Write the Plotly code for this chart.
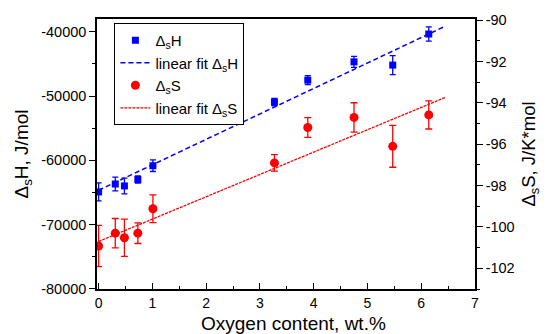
import plotly.graph_objects as go

# Data
oxygen = [0.0, 0.31, 0.48, 0.73, 1.01, 3.27, 3.89, 4.75, 5.47, 6.14]
dH = [-64930, -63700, -64000, -63000, -60850, -50930, -47520, -44670, -45180, -40340]
dH_err = [1400, 1070, 1220, 560, 900, 580, 700, 850, 1480, 1100]
dS = [-100.92, -100.30, -100.52, -100.30, -99.12, -96.90, -95.19, -94.70, -96.10, -94.58]
dS_err = [1.0, 0.71, 0.90, 0.50, 0.67, 0.40, 0.48, 0.71, 1.01, 0.68]

fit_x = [0.0, 6.45]
fit_H = [-64670, -39110]
fit_S = [-100.70, -93.73]

x_ticks = [0, 1, 2, 3, 4, 5, 6, 7]
x_ticklabels = ["0", "1", "2", "3", "4", "5", "6", "7"]
h_ticks = [-80000, -70000, -60000, -50000, -40000]
h_ticklabels = ["-80000", "-70000", "-60000", "-50000", "-40000"]
s_ticks = [-102, -100, -98, -96, -94, -92, -90]
s_ticklabels = ["-102", "-100", "-98", "-96", "-94", "-92", "-90"]

FONT = "Arial, Liberation Sans, sans-serif"
BLUE = "#0000ff"
RED = "#ff0000"

fig = go.Figure()
fig.add_trace(go.Scatter(
    x=oxygen, y=dH, mode="markers", name="Δ<sub>s</sub>H",
    marker=dict(symbol="square", size=7, color=BLUE),
    error_y=dict(type="data", array=dH_err, visible=True, color=BLUE, thickness=1.3, width=3),
))
fig.add_trace(go.Scatter(
    x=fit_x, y=fit_H, mode="lines", name="linear fit Δ<sub>s</sub>H",
    line=dict(color=BLUE, width=1.5, dash="5px,3px"),
))
fig.add_trace(go.Scatter(
    x=oxygen, y=dS, mode="markers", name="Δ<sub>s</sub>S", yaxis="y2",
    marker=dict(symbol="circle", size=9, color=RED),
    error_y=dict(type="data", array=dS_err, visible=True, color=RED, thickness=1.3, width=3.5),
))
fig.add_trace(go.Scatter(
    x=fit_x, y=fit_S, mode="lines", name="linear fit Δ<sub>s</sub>S", yaxis="y2",
    line=dict(color=RED, width=1.3, dash="3px,1px"),
))

fig.update_layout(
    width=548, height=334,
    margin=dict(l=97, r=56, t=14, b=45),
    paper_bgcolor="white", plot_bgcolor="white",
    font=dict(family=FONT, size=14, color="black"),
    showlegend=True,
    legend=dict(
        x=0.046, y=0.985, xanchor="left", yanchor="top",
        bordercolor="black", borderwidth=1, bgcolor="white",
        font=dict(size=15, family=FONT),
        itemwidth=30, tracegroupgap=0,
    ),
    xaxis=dict(
        range=[-0.03, 7], tickmode="array", tickvals=x_ticks, ticktext=x_ticklabels,
        showline=True, linecolor="black", linewidth=1.5, mirror=True,
        ticks="inside", ticklen=6, tickwidth=1.3, tickcolor="black",
        minor=dict(dtick=0.5, ticklen=3, ticks="inside", tickcolor="black", tickwidth=1.2),
        showgrid=False, zeroline=False,
        tickfont=dict(size=14),
    ),
    yaxis=dict(
        range=[-80050, -38000], tickmode="array", tickvals=h_ticks, ticktext=h_ticklabels,
        showline=True, linecolor="black", linewidth=1.5,
        ticks="outside", ticklen=6, tickwidth=1.3, tickcolor="black",
        minor=dict(tickmode="linear", tick0=-80000, dtick=5000, ticklen=3, ticks="outside",
                   tickcolor="black", tickwidth=1.2),
        showgrid=False, zeroline=False,
        title=dict(text="Δ<sub>s</sub>H, J/mol", font=dict(size=19), standoff=8),
        tickfont=dict(size=14.5),
    ),
    yaxis2=dict(
        range=[-103, -89.94], overlaying="y", side="right",
        tickmode="array", tickvals=s_ticks, ticktext=s_ticklabels,
        showline=True, linecolor="black", linewidth=1.5,
        ticks="outside", ticklen=6, tickwidth=1.3, tickcolor="black",
        minor=dict(tickmode="linear", tick0=-103, dtick=1, ticklen=3, ticks="outside",
                   tickcolor="black", tickwidth=1.2),
        showgrid=False, zeroline=False,
        title=dict(text="Δ<sub>s</sub>S, J/K*mol", font=dict(size=18.5), standoff=8),
        tickfont=dict(size=14.5),
    ),
    annotations=[dict(
        text="Oxygen content, wt.%", xref="paper", yref="paper",
        x=0.52, y=-0.128, xanchor="center", yanchor="middle",
        showarrow=False, font=dict(size=19, family=FONT, color="black"),
    )],
)

fig.write_html("out.html")
